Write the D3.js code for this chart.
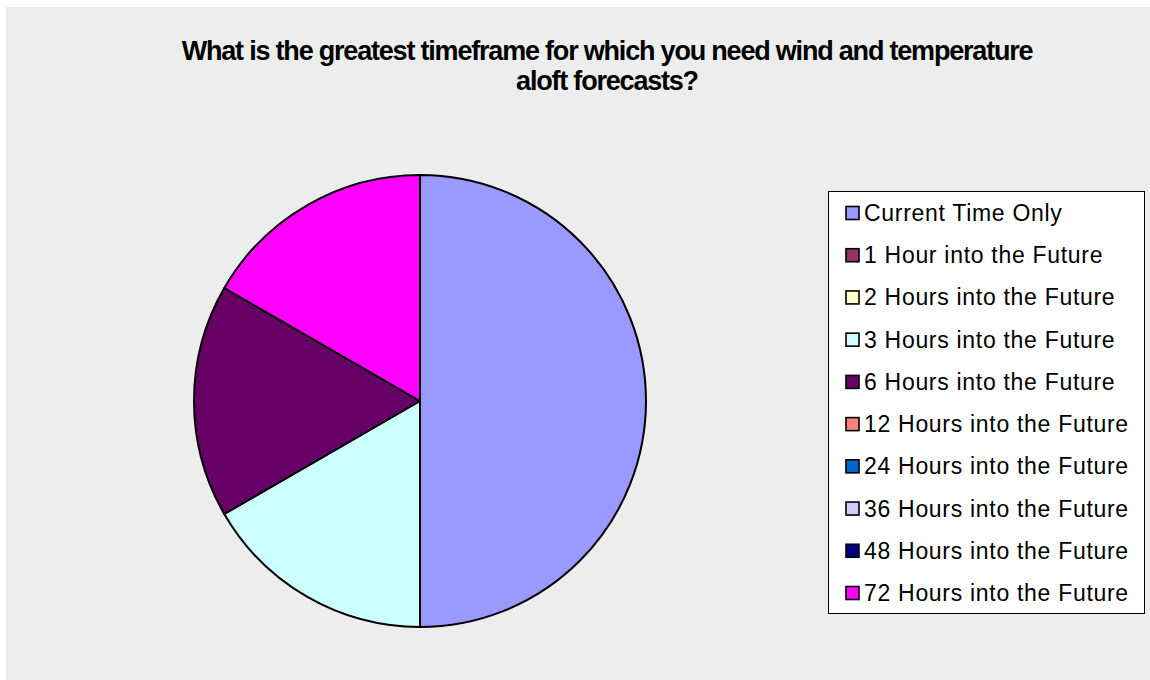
<!DOCTYPE html>
<html>
<head>
<meta charset="utf-8">
<script src="https://cdn.jsdelivr.net/npm/d3@7"></script>
<style>
  html, body { margin: 0; padding: 0; background: #ffffff; }
  svg { display: block; }
</style>
</head>
<body>
<svg id="chart" width="1150" height="680"></svg>
<script>
const titleLines = ["What is the greatest timeframe for which you need wind and temperature", "aloft forecasts?"];
const categories = ["Current Time Only", "1 Hour into the Future", "2 Hours into the Future", "3 Hours into the Future", "6 Hours into the Future", "12 Hours into the Future", "24 Hours into the Future", "36 Hours into the Future", "48 Hours into the Future", "72 Hours into the Future"];
const values = [3, 0, 0, 1, 1, 0, 0, 0, 0, 1];
const colors = ["#9999FF", "#993366", "#FFFFCC", "#CCFFFF", "#660066", "#FF8080", "#0066CC", "#CCCCFF", "#000080", "#FF00FF"];

const svg = d3.select("#chart");

svg.append("rect").attr("x", 6).attr("y", 7).attr("width", 1144).attr("height", 673).attr("fill", "#EDEDED");

const title = svg.append("text")
  .attr("x", 607).attr("y", 60)
  .attr("text-anchor", "middle")
  .attr("font-family", "Liberation Sans, Arial, sans-serif")
  .attr("font-weight", "bold")
  .attr("font-size", 27)
  .attr("letter-spacing", "-1.2px")
  .attr("fill", "#000");
titleLines.forEach((t, i) => {
  title.append("tspan").attr("x", 607).attr("dy", i === 0 ? 0 : 30).text(t);
});

const color = d3.scaleOrdinal().domain(categories).range(colors);
const data = categories.map((c, i) => ({ name: c, value: values[i] }));

const pie = d3.pie().sort(null).value(d => d.value);
const arc = d3.arc().innerRadius(0).outerRadius(226);

const g = svg.append("g").attr("transform", "translate(420,401)");
g.selectAll("path")
  .data(pie(data).filter(d => d.data.value > 0))
  .join("path")
  .attr("d", arc)
  .attr("fill", d => color(d.data.name))
  .attr("stroke", "#000")
  .attr("stroke-width", 2)
  .attr("stroke-linejoin", "round");

// Legend
const lx = 828, ly = 191, lw = 316, lh = 422;
svg.append("rect").attr("x", lx + 0.5).attr("y", ly + 0.5).attr("width", lw).attr("height", lh)
  .attr("fill", "#fff").attr("stroke", "#000").attr("stroke-width", 1);

const ys = d3.scalePoint().domain(categories).range([213, 593]);
const items = svg.append("g").selectAll("g").data(categories).join("g")
  .attr("transform", d => `translate(0,${ys(d)})`);
items.append("rect")
  .attr("x", 846).attr("y", -6.5).attr("width", 13).attr("height", 13)
  .attr("fill", d => color(d)).attr("stroke", "#000").attr("stroke-width", 1.6);
items.append("text")
  .attr("x", 864).attr("y", 8)
  .attr("font-family", "Liberation Sans, Arial, sans-serif")
  .attr("font-size", 23)
  .attr("letter-spacing", "0.7px")
  .attr("fill", "#000")
  .text(d => d);
</script>
</body>
</html>
